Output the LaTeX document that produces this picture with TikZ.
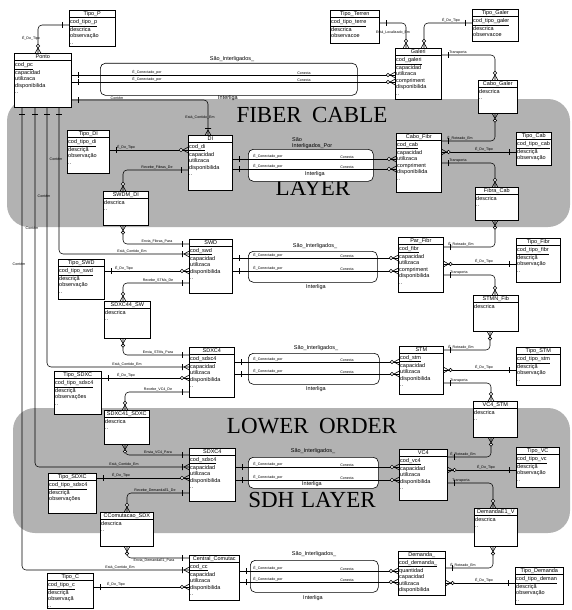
\documentclass[tikz,border=0pt]{standalone}
\usepackage{fontspec}
\setmainfont{Liberation Sans}
\newfontfamily\layerfont{Liberation Serif}
\usetikzlibrary{shadows,calc}
\definecolor{layergray}{RGB}{178,178,178}
\tikzset{
 ebox/.style={draw, line width=0.6pt, fill=white, inner sep=0pt,
   drop shadow={shadow xshift=0.7pt, shadow yshift=-0.7pt, fill=black, opacity=1}},
 etitle/.style={font=\fontsize{5.5}{6}\selectfont, inner sep=0pt},
 eattr/.style={font=\fontsize{5.5}{6.5}\selectfont, inner sep=0pt, anchor=north west, align=left},
 rbox/.style={draw, line width=0.6pt, fill=white, rounded corners=5pt, inner sep=0pt, anchor=north west},
 conn/.style={draw, line width=0.55pt, rounded corners=4pt},
 lbl/.style={font=\fontsize{3.6}{4}\selectfont, inner sep=0.3pt},
 rlbl/.style={font=\fontsize{5.5}{6.5}\selectfont, inner sep=0pt},
 layertxt/.style={font=\layerfont\fontsize{23}{24}\selectfont, inner sep=0pt, anchor=base},
 pics/one/.style={code={\draw[line width=0.6pt] (-6.5,-3) -- (-6.5,3);}},
 pics/zm/.style={code={\draw[line width=0.6pt] (-5,0) -- (0,-2.8) (-5,0) -- (0,2.8);
   \draw[line width=0.6pt, fill=white] (-7,0) circle (1.7pt);}},
 pics/om/.style={code={\draw[line width=0.6pt] (-5,0) -- (0,-2.8) (-5,0) -- (0,2.8) (-6.5,-3) -- (-6.5,3);}},
}
\newcommand\ent[7]{%
  \node[ebox, minimum width=#4pt, minimum height=#5pt, anchor=north west] (#1) at (#2,#3) {};
  \node[etitle] (#1-t) at ([yshift=-3.9pt]#1.north) {#6};
  \draw[line width=0.6pt] ([yshift=-7.5pt]#1.north west) -- ([yshift=-7.5pt]#1.north east);
  \node[eattr] (#1-a) at ([xshift=1pt,yshift=-9pt]#1.north west) {#7};
}
\begin{document}
\begin{tikzpicture}[x=1pt,y=-1pt]
\useasboundingbox (0,0) rectangle (572,610);
% layers
\path[fill=layergray, rounded corners=22pt] (7,99) rectangle (570,227);
\path[fill=layergray, rounded corners=22pt] (13,408) rectangle (570,533);
\node[layertxt] (L1) at (312,122) {FIBER\hspace{0.45em}CABLE};
\node[layertxt] (L2) at (313,195) {LAYER};
\node[layertxt] (L3) at (312,433) {LOWER\hspace{0.45em}ORDER};
\node[layertxt] (L4) at (312,507) {SDH\hspace{0.3em}LAYER};
% relation boxes
\node[rbox, minimum width=257pt, minimum height=32pt] (R1) at (100,63) {};
\node[rbox, minimum width=125pt, minimum height=32pt] (R2) at (248,149) {};
\node[rbox, minimum width=129pt, minimum height=31pt] (R3) at (248,251) {};
\node[rbox, minimum width=131pt, minimum height=31pt] (R4) at (248,353) {};
\node[rbox, minimum width=130pt, minimum height=31pt] (R5) at (248,457) {};
\node[rbox, minimum width=128pt, minimum height=32pt] (R6) at (250,560) {};
\node[rlbl] (R1a) at (232,59) {São\_Interligados\_};
\node[rlbl] (R1b) at (228,98) {Interliga};
\node[rlbl, anchor=north west, align=left] (R2a) at (292,137) {São\\Interligados\_Por};
\node[rlbl] (R2b) at (315,174) {Interliga};
\node[rlbl] (R3a) at (315,246) {São\_Interligados\_};
\node[rlbl] (R3b) at (316,287) {Interliga};
\node[rlbl] (R4a) at (316,348) {São\_Interligados\_};
\node[rlbl] (R4b) at (316,389) {Interliga};
\node[rlbl] (R5a) at (313,451) {São\_Interligados\_};
\node[rlbl] (R5b) at (312,484.5) {Interliga};
\node[rlbl] (R6a) at (314,554) {São\_Interligados\_};
\node[rlbl] (R6b) at (313,598) {Interliga};
% entities
\ent{TipoP}{69}{10}{46}{36}{Tipo\_P}{\underline{cod\_tipo\_p}\\descrica\\observação\\..}
\ent{Ponto}{14}{53}{57}{54}{Ponto}{\underline{cod\_pc}\\capacidad\\utilizaca\\disponibilida\\..}
\ent{TipoTerren}{330}{10}{49}{33}{Tipo\_Terren}{\underline{cod\_tipo\_terre}\\descrica\\observacoe\\..}
\ent{TipoGaler}{472}{9}{46}{32}{Tipo\_Galer}{\underline{cod\_tipo\_galer}\\descrica\\observacoe}
\ent{Galeri}{395}{48}{46}{51}{Galeri}{\underline{cod\_galeri}\\capacidad\\utilizaca\\compriment\\disponibilida\\..}
\ent{CaboGaler}{478}{80}{39}{33}{Cabo\_Galer}{descrica\\..}
\ent{TipoDI}{67}{130}{42}{43}{Tipo\_DI}{\underline{cod\_tipo\_di}\\descriçã\\observação\\..}
\ent{DI}{188}{135}{44}{55}{DI}{\underline{cod\_di}\\capacidad\\utilizaca\\disponibilida\\..}
\ent{SWDMDI}{103}{191}{45}{34}{SWDM\_DI}{descrica\\..}
\ent{CaboFibr}{396}{133}{45}{59}{Cabo\_Fibr}{\underline{cod\_cab}\\capacidad\\utilizaca\\compriment\\disponibilida\\..}
\ent{TipoCab}{516}{132}{35}{33}{Tipo\_Cab}{\underline{cod\_tipo\_cab}\\descriçã\\observação\\..}
\ent{FibraCab}{475}{187}{43}{33}{Fibra\_Cab}{descrica\\..}
\ent{SWD}{189}{239}{43}{54}{SWD}{\underline{cod\_swd}\\capacidad\\utilizaca\\disponibilida\\..}
\ent{TipoSWD}{58}{259}{46}{40}{Tipo\_SWD}{\underline{cod\_tipo\_swd}\\descriçã\\observação\\..}
\ent{SDXCSW}{104}{301}{46}{37}{SDXC44\_SW}{descrica\\..}
\ent{ParFibr}{398}{237}{45}{55}{Par\_Fibr}{\underline{cod\_fibr}\\capacidad\\utilizaca\\compriment\\disponibilida\\..}
\ent{TipoFibr}{516}{238}{44}{44}{Tipo\_Fibr}{\underline{cod\_tipo\_fibr}\\descriçã\\observação\\..}
\ent{STMNFib}{473}{295}{45}{36}{STMN\_Fib}{descrica}
\ent{SDXCa}{189}{347}{45}{50}{SDXC4}{\underline{cod\_sdxc4}\\capacidad\\utilizaca\\disponibilida\\..}
\ent{STM}{399}{346}{44}{48}{STM}{\underline{cod\_stm}\\capacidad\\utilizaca\\disponibilida\\..}
\ent{TipoSTM}{516}{347}{44}{38}{Tipo\_STM}{\underline{cod\_tipo\_stm}\\descriçã\\observação\\..}
\ent{TipoSDXCa}{54}{371}{47}{43}{Tipo\_SDXC}{\underline{cod\_tipo\_sdxc4}\\descriçã\\observações\\..}
\ent{SDXCone}{104}{410}{45}{34}{SDXC41\_SDXC}{descrica\\..}
\ent{VCSTM}{473}{401}{44}{36}{VC4\_STM}{descrica\\..}
\ent{SDXCb}{189}{448}{46}{53}{SDXC4}{\underline{cod\_sdxc4}\\capacidad\\utilizaca\\disponibilida\\..}
\ent{VC}{399}{449}{48}{51}{VC4}{\underline{cod\_vc4}\\capacidad\\utilizaca\\disponibilida\\..}
\ent{TipoVC}{516}{447}{43}{40}{Tipo\_VC}{\underline{cod\_tipo\_vc}\\descriçã\\observação\\..}
\ent{TipoSDXCb}{48}{473}{48}{40}{Tipo\_SDXC}{\underline{cod\_tipo\_sdxc4}\\descriçã\\observações}
\ent{CComut}{100}{512}{53}{34}{CComutacao\_SDX}{descrica\\..}
\ent{DemE}{474}{508}{43}{38}{DemandaE1\_V}{descrica\\..}
\ent{CentralC}{189}{555}{50}{45}{Central\_Comutac}{\underline{cod\_cc}\\capacidad\\utilizaca\\disponibilida\\..}
\ent{Demanda}{398}{551}{47}{44}{Demanda\_}{\underline{cod\_demanda\_}\\quantidad\\capacidad\\utilizaca\\disponibilida}
\ent{TipoC}{47}{573}{46}{35}{Tipo\_C}{\underline{cod\_tipo\_c}\\descriçã\\observaçã\\..}
\ent{TipoDemanda}{515}{567}{48}{37}{Tipo\_Demanda}{\underline{cod\_tipo\_deman}\\descriçã\\observação\\..}
% ---------- connectors ----------
% Tipo_P - Ponto
\draw[conn] (TipoP.west |- 0,25) -| (38,0 |- Ponto.north);
\pic at (TipoP.west |- 0,25) {one};
\pic[rotate=-90] at (38,0 |- Ponto.north) {zm};
\node[lbl] at (31,38) {É\_Do\_Tipo};
% Ponto - Galeri (R1)
\foreach \yy in {75,82} {
 \draw[conn] (Ponto.east |- 0,\yy) -- (Galeri.west |- 0,\yy);
 \pic[rotate=180] at (Ponto.east |- 0,\yy) {one};
 \pic at (Galeri.west |- 0,\yy) {zm};
 \node[lbl, anchor=south] at (147,\yy) {É\_Conectado\_por};
 \node[lbl, anchor=south] at (304,\yy) {Conecta};
}
% Ponto - DI
\draw[conn] (Ponto.east |- 0,100) -| (208,0 |- DI.north);
\pic[rotate=180] at (Ponto.east |- 0,100) {one};
\pic[rotate=-90] at (208,0 |- DI.north) {om};
\node[lbl, anchor=south] at (117,100) {Contém};
\node[lbl] at (200,118) {Está\_Contido\_Em};
% Tipo_Terren - Galeri
\draw[conn] (TipoTerren.east |- 0,23) -| (406,0 |- Galeri.north);
\pic[rotate=180] at (TipoTerren.east |- 0,23) {one};
\pic[rotate=-90] at (406,0 |- Galeri.north) {zm};
\node[lbl] at (393,33) {Está\_Localizado\_Em};
% Tipo_Galer - Galeri
\draw[conn] (TipoGaler.west |- 0,23) -| (424,0 |- Galeri.north);
\pic at (TipoGaler.west |- 0,23) {one};
\pic[rotate=-90] at (424,0 |- Galeri.north) {zm};
\node[lbl, anchor=south] at (451,23) {É\_Do\_Tipo};
% Galeri - Cabo_Galer
\draw[conn] (Galeri.east |- 0,55) -| (495,0 |- CaboGaler.north);
\pic[rotate=180] at (Galeri.east |- 0,55) {one};
\pic[rotate=-90] at (495,0 |- CaboGaler.north) {zm};
\node[lbl, anchor=south] at (458,55) {Transporta};
% Cabo_Galer - Cabo_Fibr
\draw[conn] (495,0 |- CaboGaler.south) |- (CaboFibr.east |- 0,141);
\pic[rotate=90] at (495,0 |- CaboGaler.south) {zm};
\pic[rotate=180] at (CaboFibr.east |- 0,141) {one};
\node[lbl, anchor=south] at (460,141) {É\_Roteado\_Em};
% Cabo_Fibr - Tipo_Cab
\draw[conn] (CaboFibr.east |- 0,152) -- (TipoCab.west |- 0,152);
\pic[rotate=180] at (CaboFibr.east |- 0,152) {zm};
\pic at (TipoCab.west |- 0,152) {one};
\node[lbl, anchor=south] at (484,152) {É\_Do\_Tipo};
% Cabo_Fibr - Fibra_Cab
\draw[conn] (CaboFibr.east |- 0,163) -| (495,0 |- FibraCab.north);
\pic[rotate=180] at (CaboFibr.east |- 0,163) {one};
\pic[rotate=-90] at (495,0 |- FibraCab.north) {zm};
\node[lbl, anchor=south] at (458,163) {Transporta};
% Fibra_Cab - Par_Fibr
\draw[conn] (495,0 |- FibraCab.south) |- (ParFibr.east |- 0,247);
\pic[rotate=90] at (495,0 |- FibraCab.south) {zm};
\pic[rotate=180] at (ParFibr.east |- 0,247) {one};
\node[lbl, anchor=south] at (461,247) {É\_Roteado\_Em};
% relation lines R2..R6
\foreach \A/\B/\ya/\yb in {DI/CaboFibr/159/169, SWD/ParFibr/258/271, SDXCa/STM/362/374, SDXCb/VC/467/480, CentralC/Demanda/571/582} {
 \foreach \yy in {\ya,\yb} {
  \draw[conn] (\A.east |- 0,\yy) -- (\B.west |- 0,\yy);
  \pic[rotate=180] at (\A.east |- 0,\yy) {one};
  \pic at (\B.west |- 0,\yy) {zm};
  \node[lbl, anchor=south] at (268,\yy) {É\_Conectado\_por};
  \node[lbl, anchor=south] at (347,\yy) {Conecta};
 }
}
% Tipo_* - entity (left column)
\foreach \T/\E/\yy/\lx in {TipoDI/DI/150/126, TipoSWD/SWD/271/124, TipoSDXCa/SDXCa/378/126, TipoSDXCb/SDXCb/478/121, TipoC/CentralC/587/116} {
 \draw[conn] (\T.east |- 0,\yy) -- (\E.west |- 0,\yy);
 \pic[rotate=180] at (\T.east |- 0,\yy) {one};
 \pic at (\E.west |- 0,\yy) {zm};
 \node[lbl, anchor=south] at (\lx,\yy) {É\_Do\_Tipo};
}
% entity - associative entity (left column)
\draw[conn] (DI.west |- 0,170) -| (123,0 |- SWDMDI.north);
\pic at (DI.west |- 0,170) {one};
\pic[rotate=-90] at (123,0 |- SWDMDI.north) {zm};
\node[lbl, anchor=south] at (157,170) {Recebe\_Fibras\_De};
\draw[conn] (123,0 |- SWDMDI.south) |- (SWD.west |- 0,244);
\pic[rotate=90] at (123,0 |- SWDMDI.south) {zm};
\pic at (SWD.west |- 0,244) {one};
\node[lbl, anchor=south] at (157,244) {Envia\_Fibras\_Para};
\draw[conn] (SWD.west |- 0,283) -| (123,0 |- SDXCSW.north);
\pic at (SWD.west |- 0,283) {one};
\pic[rotate=-90] at (123,0 |- SDXCSW.north) {zm};
\node[lbl, anchor=south] at (158,283) {Recebe\_STMs\_De};
\draw[conn] (123,0 |- SDXCSW.south) |- (SDXCa.west |- 0,355);
\pic[rotate=90] at (123,0 |- SDXCSW.south) {zm};
\pic at (SDXCa.west |- 0,355) {one};
\node[lbl, anchor=south] at (158,355) {Envia\_STMs\_Para};
\draw[conn] (SDXCa.west |- 0,392) -| (125,0 |- SDXCone.north);
\pic at (SDXCa.west |- 0,392) {one};
\pic[rotate=-90] at (125,0 |- SDXCone.north) {zm};
\node[lbl, anchor=south] at (158,392) {Recebe\_VC4\_De};
\draw[conn] (125,0 |- SDXCone.south) |- (SDXCb.west |- 0,455);
\pic[rotate=90] at (125,0 |- SDXCone.south) {zm};
\pic at (SDXCb.west |- 0,455) {one};
\node[lbl, anchor=south] at (158,455) {Envia\_VC4\_Para};
\draw[conn] (SDXCb.west |- 0,493) -| (127,0 |- CComut.north);
\pic at (SDXCb.west |- 0,493) {one};
\pic[rotate=-90] at (127,0 |- CComut.north) {zm};
\node[lbl, anchor=south] at (155,493) {Recebe\_DemandaE1\_De};
\draw[conn] (127,0 |- CComut.south) |- (CentralC.west |- 0,558);
\pic[rotate=90] at (127,0 |- CComut.south) {zm};
\pic at (CentralC.west |- 0,558) {one};
\node[lbl, anchor=north] at (154,558.5) {Envia\_DemandaE1\_Para};
% Ponto - Contém (vertical lines)
\foreach \xx/\E/\yy/\cy/\ex in {59/SWD/254/159/132, 47/SDXCa/367/196/127, 35/SDXCb/467/228/124, 22/CentralC/570/264/120} {
 \draw[conn] (\xx,0 |- Ponto.south) |- (\E.west |- 0,\yy);
 \pic[rotate=90] at (\xx,0 |- Ponto.south) {one};
 \pic at (\E.west |- 0,\yy) {om};
 \node[lbl] at (\xx-3,\cy) {Contém};
 \node[lbl, anchor=south] at (\ex,\yy) {Está\_Contido\_Em};
}
% right column
\draw[conn] (ParFibr.east |- 0,264) -- (TipoFibr.west |- 0,264);
\pic[rotate=180] at (ParFibr.east |- 0,264) {zm};
\pic at (TipoFibr.west |- 0,264) {one};
\node[lbl, anchor=south] at (484,264) {É\_Do\_Tipo};
\draw[conn] (ParFibr.east |- 0,275) -| (495,0 |- STMNFib.north);
\pic[rotate=180] at (ParFibr.east |- 0,275) {one};
\pic[rotate=-90] at (495,0 |- STMNFib.north) {zm};
\node[lbl, anchor=south] at (459,275) {Transporta};
\draw[conn] (490,0 |- STMNFib.south) |- (STM.east |- 0,350);
\pic[rotate=90] at (490,0 |- STMNFib.south) {zm};
\pic[rotate=180] at (STM.east |- 0,350) {one};
\node[lbl, anchor=south] at (461,350) {É\_Roteado\_Em};
\draw[conn] (STM.east |- 0,370) -- (TipoSTM.west |- 0,370);
\pic[rotate=180] at (STM.east |- 0,370) {zm};
\pic at (TipoSTM.west |- 0,370) {one};
\node[lbl, anchor=south] at (484,370) {É\_Do\_Tipo};
\draw[conn] (STM.east |- 0,383) -| (491,0 |- VCSTM.north);
\pic[rotate=180] at (STM.east |- 0,383) {one};
\pic[rotate=-90] at (491,0 |- VCSTM.north) {zm};
\node[lbl, anchor=south] at (459,383) {Transporta};
\draw[conn] (491,0 |- VCSTM.south) |- (VC.east |- 0,457);
\pic[rotate=90] at (491,0 |- VCSTM.south) {zm};
\pic[rotate=180] at (VC.east |- 0,457) {one};
\node[lbl, anchor=south] at (463,457) {É\_Roteado\_Em};
\draw[conn] (VC.east |- 0,470) -- (TipoVC.west |- 0,470);
\pic[rotate=180] at (VC.east |- 0,470) {zm};
\pic at (TipoVC.west |- 0,470) {one};
\node[lbl, anchor=south] at (486,470) {É\_Do\_Tipo};
\draw[conn] (VC.east |- 0,483) -| (493,0 |- DemE.north);
\pic[rotate=180] at (VC.east |- 0,483) {one};
\pic[rotate=-90] at (493,0 |- DemE.north) {zm};
\node[lbl, anchor=south] at (461,483) {Transporta};
\draw[conn] (493,0 |- DemE.south) |- (Demanda.east |- 0,568);
\pic[rotate=90] at (493,0 |- DemE.south) {zm};
\pic[rotate=180] at (Demanda.east |- 0,568) {one};
\node[lbl, anchor=south] at (463,568) {É\_Roteado\_Em};
\draw[conn] (Demanda.east |- 0,583) -- (TipoDemanda.west |- 0,583);
\pic[rotate=180] at (Demanda.east |- 0,583) {zm};
\pic at (TipoDemanda.west |- 0,583) {one};
\node[lbl, anchor=south] at (484,583) {É\_Do\_Tipo};
\end{tikzpicture}
\end{document}
